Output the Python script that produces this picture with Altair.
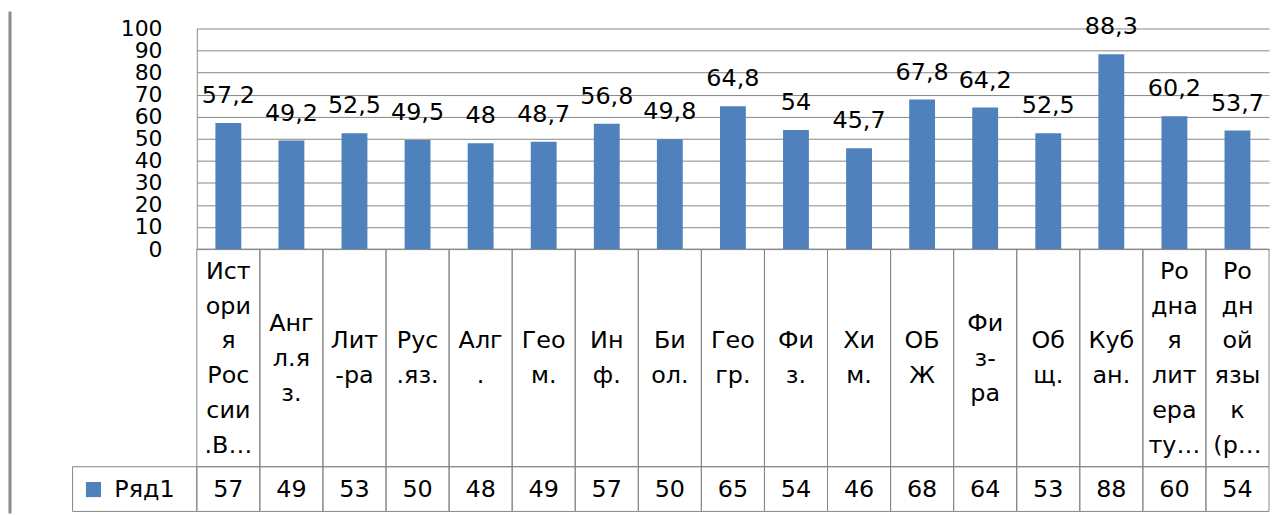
import altair as alt
import pandas as pd

# ---- data ----
categories = ["История России.В…", "Англ.яз.", "Лит-ра", "Рус.яз.", "Алг.", "Геом.",
              "Инф.", "Биол.", "Геогр.", "Физ.", "Хим.", "ОБЖ", "Физ-ра", "Общ.",
              "Кубан.", "Родная литерату…", "Родной язык (р…"]
wrapped = ["Ист\nори\nя\nРос\nсии\n.В…", "Анг\nл.я\nз.", "Лит\n-ра", "Рус\n.яз.",
           "Алг\n.", "Гео\nм.", "Ин\nф.", "Би\nол.", "Гео\nгр.", "Фи\nз.", "Хи\nм.",
           "ОБ\nЖ", "Фи\nз-\nра", "Об\nщ.", "Куб\nан.",
           "Ро\nдна\nя\nлит\nера\nту…", "Ро\nдн\nой\nязы\nк\n(р…"]
values = [57.2, 49.2, 52.5, 49.5, 48, 48.7, 56.8, 49.8, 64.8, 54, 45.7, 67.8, 64.2,
          52.5, 88.3, 60.2, 53.7]
table_values = [57, 49, 53, 50, 48, 49, 57, 50, 65, 54, 46, 68, 64, 53, 88, 60, 54]
series_name = "Ряд1"
y_ticks = list(range(0, 101, 10))

# ---- styling / layout ----
FONT = "DejaVu Sans"
FS = 24
AXIS_FS = 22
BLUE = "#4F81BD"
GRID = "#868686"
W, H = 1079, 222
CAT_BOTTOM = 441
VAL_BOTTOM = 486
LH = 35

df = pd.DataFrame({
    "cat": categories,
    "wrapped": wrapped,
    "nlines": [w.count("\n") + 1 for w in wrapped],
    "value": values,
    "label": [f"{v:g}".replace(".", ",") for v in values],
    "tv": [str(v) for v in table_values],
    "series": [series_name] * len(categories),
})

base = alt.Chart(df).encode(
    x=alt.X("cat:N", sort=categories,
            scale=alt.Scale(paddingInner=0, paddingOuter=0), axis=None)
)

yaxis = alt.Axis(values=y_ticks, tickCount=11, grid=True, gridColor=GRID, gridWidth=1,
                 domain=True, domainColor=GRID, ticks=False, tickSize=0,
                 labelOverlap=False, labelBound=False,
                 labelPadding=35, labelFont=FONT, labelFontSize=AXIS_FS,
                 labelColor="black", title=None)
yscale = alt.Scale(domain=[0, 100], nice=False)

bars = base.mark_bar(width=alt.RelativeBandSize(0.41)).encode(
    y=alt.Y("value:Q", scale=yscale, axis=yaxis),
    color=alt.Color("series:N", scale=alt.Scale(range=[BLUE]),
                    legend=alt.Legend(title=None, orient="none", legendX=-116,
                                      legendY=452, symbolType="square",
                                      symbolSize=230, symbolStrokeWidth=0,
                                      labelFont=FONT, labelFontSize=FS,
                                      labelColor="black", labelOffset=9)),
)

bar_labels = base.mark_text(baseline="alphabetic", dy=-20, font=FONT, fontSize=FS,
                            color="black").encode(
    y=alt.Y("value:Q", scale=yscale, axis=yaxis), text="label:N")

cat_cells = base.mark_rect(fillOpacity=0, stroke=GRID, strokeWidth=1).encode(
    y=alt.value(H), y2=alt.value(CAT_BOTTOM))
val_cells = base.mark_rect(fillOpacity=0, stroke=GRID, strokeWidth=1).encode(
    y=alt.value(CAT_BOTTOM), y2=alt.value(VAL_BOTTOM))

center = (H + CAT_BOTTOM) / 2 + 1
cat_layers = []
for n in sorted(set(df["nlines"])):
    cat_layers.append(
        base.mark_text(lineBreak="\n", lineHeight=LH, font=FONT, fontSize=FS,
                       baseline="middle", color="black")
        .transform_filter(alt.datum.nlines == n)
        .encode(y=alt.value(center - (n - 1) * LH / 2), text="wrapped:N")
    )

val_text = base.mark_text(font=FONT, fontSize=FS, baseline="middle",
                          color="black").encode(
    y=alt.value((CAT_BOTTOM + VAL_BOTTOM) / 2 + 1), text="tv:N")

one = pd.DataFrame({"series": [series_name]})
legend_cell = alt.Chart(one).mark_rect(fillOpacity=0, stroke=GRID, strokeWidth=1).encode(
    x=alt.value(-125), x2=alt.value(0), y=alt.value(CAT_BOTTOM), y2=alt.value(VAL_BOTTOM))
frame_line = alt.Chart(one).mark_rule(color="#8a8a8a", strokeWidth=3).encode(
    x=alt.value(-188), y=alt.value(-17), y2=alt.value(VAL_BOTTOM + 2))

chart = alt.layer(
    cat_cells, val_cells, legend_cell, frame_line, bars, bar_labels, *cat_layers, val_text
).properties(width=W, height=H, padding=0).configure_view(strokeWidth=0)

chart.save("out.html", embed_options={"renderer": "svg", "actions": False})
